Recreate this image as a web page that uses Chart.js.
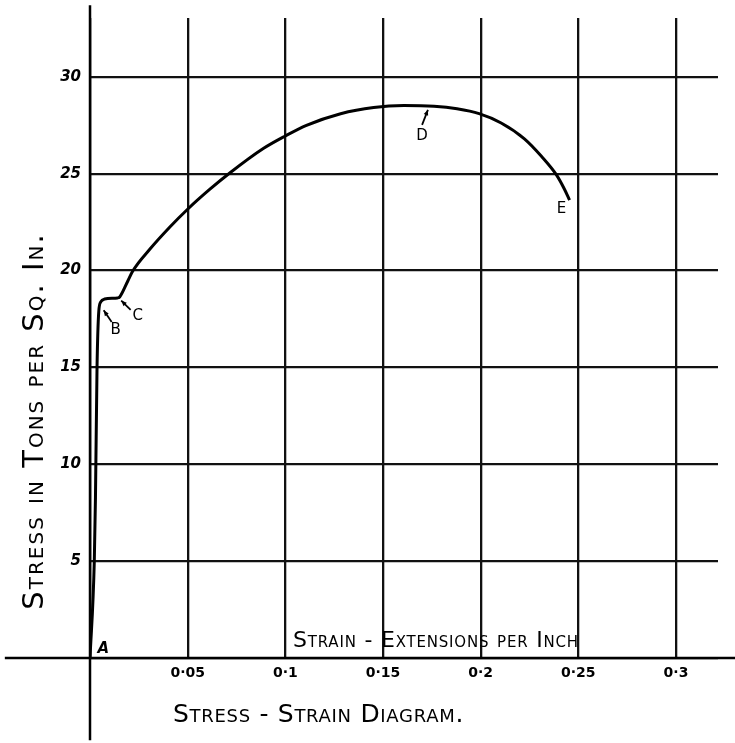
<!DOCTYPE html>
<html lang="en">
<head>
    <meta charset="UTF-8">
    <title>Stress - Strain Diagram</title>
    <script src="https://cdn.jsdelivr.net/npm/chart.js"></script>
    <style>
        *{
            margin: 0;
            padding: 0;
        }
        body{
            background-color: white;
        }
        canvas{
            display: block;
        }
    </style>
</head>
<body>
    <canvas id="chart" width="735" height="743"></canvas>
    <script>
        // strain (extension per inch) and stress (tons per sq. in.)
        const strain = [0, 0.0022, 0.0028, 0.0036, 0.0045, 0.0055, 0.0075, 0.0141, 0.0152,
            0.0193, 0.0219, 0.0306, 0.0409, 0.0501, 0.0614, 0.0717, 0.0887, 0.1000,
            0.1108, 0.1283, 0.1452, 0.1607, 0.1761, 0.1879, 0.1992, 0.2105, 0.2224,
            0.2311, 0.2388, 0.2429, 0.2455]
        const stress = [0, 5, 8.3, 15, 17.9, 18.38, 18.53, 18.59, 18.64,
            19.45, 19.98, 21.1, 22.25, 23.18, 24.2, 25.05, 26.3, 26.95,
            27.5, 28.1, 28.42, 28.52, 28.48, 28.35, 28.1, 27.62, 26.8,
            25.9, 24.94, 24.2, 23.64]

        const xTickValues = [0, 0.05, 0.1, 0.15, 0.2, 0.25, 0.3]
        const xTickLabels = ["", "0·05", "0·1", "0·15", "0·2", "0·25", "0·3"]
        const yTickValues = [0, 5, 10, 15, 20, 25, 30]
        const yTickLabels = ["", "5", "10", "15", "20", "25", "30"]

        // the axes run past the grid
        const xAxisStrain = [-0.0436, 0.331]
        const yAxisStress = [-4.25, 33.7]

        // lettered points and their arrows
        const letters = ["A", "B", "C", "D", "E"]
        const letterX = [0.0068, 0.0131, 0.0244, 0.1700, 0.2414]
        const letterY = [0.45, 16.93, 17.66, 26.95, 23.18]
        const arrowTail = [null, [0.0111, 17.35], [0.0208, 17.97], [0.1700, 27.52], null]
        const arrowTip = [null, [0.0070, 17.95], [0.0160, 18.45], [0.1730, 28.3], null]

        const yTitle = "Stress in Tons per Sq. In."
        const xTitle = "Strain - Extensions per Inch"
        const caption = "Stress - Strain Diagram."

        const curve = strain.map((v, i) => ({x: v, y: stress[i]}))

        const notes = {
            id: "notes",
            afterDatasetsDraw(chart){
                const ctx = chart.ctx
                const x = chart.scales.x
                const y = chart.scales.y
                ctx.save()
                ctx.fillStyle = "#000"
                ctx.strokeStyle = "#000"
                ctx.lineWidth = 1.8
                ctx.textAlign = "center"
                ctx.textBaseline = "middle"
                for (let i in letters){
                    ctx.font = (i == 0 ? "italic bold 15px" : "15px") + " 'DejaVu Sans'"
                    ctx.fillText(letters[i], x.getPixelForValue(letterX[i]), y.getPixelForValue(letterY[i]))
                    if (arrowTip[i]){
                        const tx = x.getPixelForValue(arrowTail[i][0]), ty = y.getPixelForValue(arrowTail[i][1])
                        const hx = x.getPixelForValue(arrowTip[i][0]), hy = y.getPixelForValue(arrowTip[i][1])
                        const a = Math.atan2(hy - ty, hx - tx)
                        ctx.beginPath()
                        ctx.moveTo(tx, ty)
                        ctx.lineTo(hx, hy)
                        ctx.stroke()
                        ctx.beginPath()
                        ctx.moveTo(hx, hy)
                        ctx.lineTo(hx - 6 * Math.cos(a - 0.4), hy - 6 * Math.sin(a - 0.4))
                        ctx.lineTo(hx - 6 * Math.cos(a + 0.4), hy - 6 * Math.sin(a + 0.4))
                        ctx.closePath()
                        ctx.fill()
                    }
                }
                ctx.textAlign = "left"
                ctx.textBaseline = "alphabetic"
                ctx.fontVariantCaps = "small-caps"
                ctx.font = "small-caps 22px 'DejaVu Sans'"
                ctx.letterSpacing = "0.8px"
                ctx.fillText(xTitle, 293, 647)
                ctx.font = "small-caps 25px 'DejaVu Sans'"
                ctx.letterSpacing = "0.7px"
                ctx.fillText(caption, 173, 722)
                ctx.translate(43, 421)
                ctx.rotate(-Math.PI / 2)
                ctx.textAlign = "center"
                ctx.font = "small-caps 29px 'DejaVu Sans'"
                ctx.letterSpacing = "2px"
                ctx.fillText(yTitle, 0, 0)
                ctx.restore()
            }
        }

        const data = {
            datasets: [{
                label: "Stress-strain curve",
                data: curve,
                showLine: true,
                borderColor: "#000",
                borderWidth: 3,
                pointRadius: 0,
                cubicInterpolationMode: "monotone"
            },
            {
                label: "x axis",
                data: xAxisStrain.map(v => ({x: v, y: 0})),
                showLine: true,
                borderColor: "#000",
                borderWidth: 2.5,
                pointRadius: 0,
                clip: false
            },
            {
                label: "y axis",
                data: yAxisStress.map(v => ({x: 0, y: v})),
                showLine: true,
                borderColor: "#000",
                borderWidth: 2.5,
                pointRadius: 0,
                clip: false
            }]
        }

        const config = {
            type: "scatter",
            data: data,
            plugins: [notes],
            options: {
                responsive: false,
                animation: false,
                layout: {padding: {top: 18, right: 17, left: 0, bottom: 0}},
                plugins: {legend: {display: false}, tooltip: {enabled: false}},
                scales: {
                    x: {
                        type: "linear",
                        min: 0,
                        max: 0.3215,
                        afterBuildTicks: s => { s.ticks = xTickValues.map(v => ({value: v})) },
                        afterFit: s => { s.height = 85 },
                        border: {display: false},
                        grid: {color: "#111", lineWidth: 2.3, drawTicks: false},
                        ticks: {
                            padding: 7,
                            color: "#000",
                            font: {family: "'DejaVu Sans'", size: 14, weight: "bold"},
                            callback: (v, i) => xTickLabels[i]
                        }
                    },
                    y: {
                        type: "linear",
                        min: 0,
                        max: 33.04,
                        afterBuildTicks: s => { s.ticks = yTickValues.map(v => ({value: v})) },
                        afterFit: s => { s.width = 90 },
                        border: {display: false},
                        grid: {color: "#111", lineWidth: 2.3, drawTicks: false},
                        ticks: {
                            padding: 9,
                            color: "#000",
                            font: {family: "'DejaVu Sans'", size: 15, weight: "bold", style: "italic"},
                            callback: (v, i) => yTickLabels[i]
                        }
                    }
                }
            }
        }

        const chart = new Chart(document.getElementById("chart"), config)
    </script>
</body>
</html>
